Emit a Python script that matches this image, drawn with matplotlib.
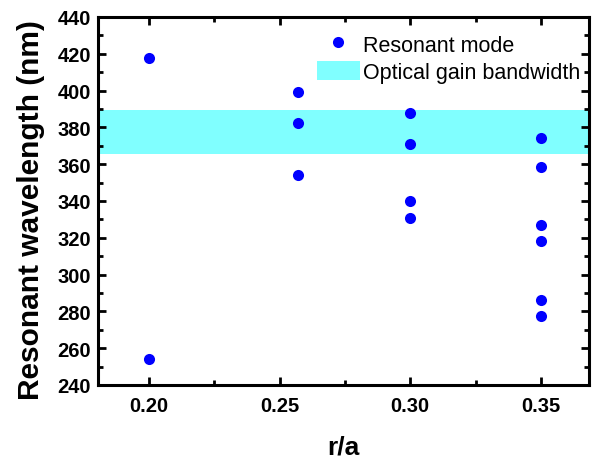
import matplotlib.pyplot as plt
from matplotlib.patches import Patch
from matplotlib.lines import Line2D
from matplotlib.ticker import MultipleLocator, FormatStrFormatter

plt.rcParams['font.family'] = ['Liberation Sans', 'DejaVu Sans']

# resonant modes
r_a = [0.20, 0.20,
       0.257, 0.257, 0.257,
       0.30, 0.30, 0.30, 0.30,
       0.35, 0.35, 0.35, 0.35, 0.35, 0.35]
wavelength = [417.5, 254,
              399.5, 382.5, 354,
              388, 371, 340, 331,
              374.5, 358.5, 327, 318.5, 286, 277.5]

gain_band = (365.5, 389.5)

fig = plt.figure(figsize=(5.96, 4.60), dpi=100)
ax = fig.add_axes([98 / 596, 1 - 386 / 460, 491 / 596, 368 / 460])

ax.axhspan(gain_band[0], gain_band[1], color='#80ffff', lw=0, zorder=1)
ax.plot(r_a, wavelength, 'o', color='#0000ff', markersize=8,
        markeredgewidth=0, zorder=3)

ax.set_xlim(0.1805, 0.3684)
ax.set_ylim(240, 440)
ax.xaxis.set_major_locator(MultipleLocator(0.05))
ax.xaxis.set_minor_locator(MultipleLocator(0.025))
ax.yaxis.set_major_locator(MultipleLocator(20))
ax.yaxis.set_minor_locator(MultipleLocator(10))
ax.xaxis.set_major_formatter(FormatStrFormatter('%.2f'))

for s in ax.spines.values():
    s.set_linewidth(2.2)
ax.tick_params(which='both', direction='in', top=True, right=True, width=2)
ax.tick_params(which='major', length=6, labelsize=14.5, pad=5)
ax.tick_params(axis='x', which='major', pad=8)
ax.tick_params(which='minor', length=3.5)
for lbl in ax.get_xticklabels() + ax.get_yticklabels():
    lbl.set_fontweight('bold')

ax.set_xlabel('r/a', fontsize=19, fontweight='bold', labelpad=14)
ax.set_ylabel('Resonant wavelength (nm)', fontsize=21.5, fontweight='bold')
ax.yaxis.set_label_coords(-0.108, 0.478)

handles = [Line2D([], [], ls='none', marker='o', color='#0000ff', markersize=8,
                  markeredgewidth=0),
           Patch(facecolor='#80ffff', edgecolor='none')]
ax.legend(handles, ['Resonant mode', 'Optical gain bandwidth'],
          loc='upper right', frameon=False, fontsize=15.5,
          handlelength=2.0, handleheight=1.0, handletextpad=0.15,
          labelspacing=0.25, borderaxespad=0.0, borderpad=0.0,
          bbox_to_anchor=(0.982, 0.955))

fig.savefig('out.png', dpi=100)
